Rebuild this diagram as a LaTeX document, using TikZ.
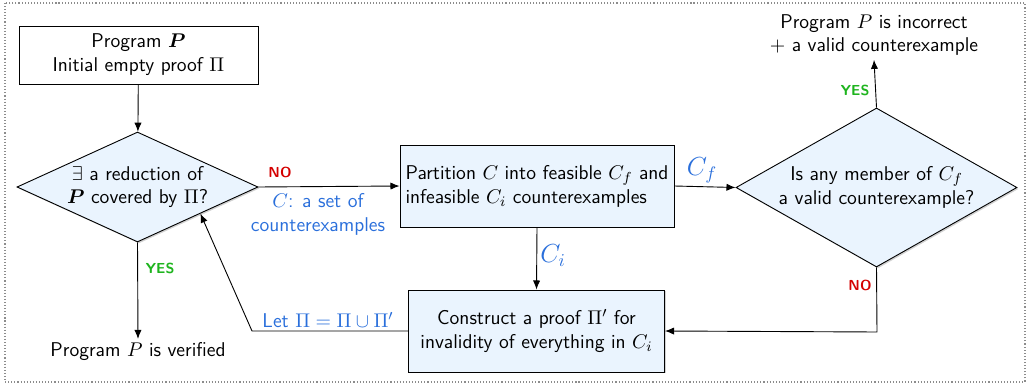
\documentclass[tikz,border=0pt]{standalone}
\usepackage{amsmath}
\usepackage{bm}
\usetikzlibrary{shapes.geometric,shadows,arrows.meta,calc}
\definecolor{boxfill}{HTML}{EAF4FE}
\definecolor{lblblue}{HTML}{2A6FDB}
\definecolor{nored}{HTML}{D40000}
\definecolor{yesgreen}{HTML}{1EB41E}
\def\u{0.5515pt}
\newcommand{\bodyfont}{\sffamily\fontsize{11}{13.2}\selectfont}
\newcommand{\bigfont}{\fontsize{14.4}{17}\selectfont}
\tikzset{
  >={Latex[length=5pt,width=4pt]},
  flow/.style={draw=black, line width=0.5pt, ->},
  shade box/.style={drop shadow={shadow xshift=0.8pt, shadow yshift=-0.8pt, opacity=0.3, fill=black!60}},
  procbox/.style={rectangle, draw=black, line width=0.5pt, fill=boxfill, shade box, font=\bodyfont, inner sep=2pt},
  startbox/.style={rectangle, draw=black, line width=0.5pt, fill=white, shade box, font=\bodyfont, align=center},
  decision/.style={diamond, draw=black, line width=0.5pt, fill=boxfill, shade box, font=\bodyfont, align=center, inner sep=-4pt},
  plain/.style={font=\bodyfont, align=center, inner sep=2pt},
  nolbl/.style={font=\sffamily\footnotesize\bfseries, text=nored},
  yeslbl/.style={font=\sffamily\footnotesize\bfseries, text=yesgreen},
  bluelbl/.style={font=\bodyfont, text=lblblue, align=center},
  biglbl/.style={font=\bigfont, text=lblblue},
}
\begin{document}
\begin{tikzpicture}[x=\u, y=-\u]
  % canvas and dotted frame
  \useasboundingbox (0,0) rectangle (1032,389);
  \draw[black!45, line width=0.6pt, dash pattern=on 0.6pt off 1.1pt] (5,3) rectangle (1025,382);

  % nodes
  \node[startbox, minimum width={239*\u}, minimum height={58*\u}] (start) at (138.5,55)
    {Program $\boldsymbol{P}$\\Initial empty proof $\Pi$};
  \node[decision, minimum width={241*\u}, minimum height={110*\u}, aspect=2.19] (cover) at (137.5,187)
    {$\exists$ a reduction of\\$\boldsymbol{P}$ covered by $\Pi$?};
  \node[procbox, align=left, minimum width={274*\u}, minimum height={82*\u}] (part) at (537,186)
    {Partition $C$ into feasible $C_f$ and\\infeasible $C_i$ counterexamples};
  \node[decision, minimum width={281*\u}, minimum height={159*\u}, aspect=1.77] (valid) at (876.5,187.5)
    {Is any member of $C_f$\\a valid counterexample?};
  \node[procbox, align=center, minimum width={256*\u}, minimum height={82*\u}] (proof) at (536.5,331)
    {Construct a proof $\Pi'$ for\\invalidity of everything in $C_i$};
  \node[plain] (verified) at (138,352) {Program $P$ is verified};
  \node[plain] (incorrect) at (874,35) {Program $P$ is incorrect\\$+$ a valid counterexample};

  % connectors
  \draw[flow] (start) -- (cover);
  \draw[flow] (cover.east) -- (part.west);
  \draw[flow] (part.east) -- (valid.west);
  \draw[flow] (part.south) -- (proof.north);
  \draw[flow] (cover.south) -- (verified.north);
  \draw[flow] (valid.north) -- (incorrect.south);
  \coordinate (nocorner) at (877,332);
  \draw[flow] (valid.south) -- (nocorner) -- (proof.east);
  \coordinate (loopcorner) at (252,331);
  \draw[flow] (proof.west) -- (loopcorner) -- ($(cover.east)!0.48!(cover.south)$);

  % edge labels
  \node[nolbl] (no1) at (280,172) {NO};
  \node[bluelbl] (cset) at (318,214) {$C$: a set of\\counterexamples};
  \node[biglbl] (cf) at (702,170) {$C_f$};
  \node[biglbl] (ci) at (553,256) {$C_i$};
  \node[bluelbl] (letpi) at (328,320) {Let $\Pi = \Pi \cup \Pi'$};
  \node[yeslbl] (yes1) at (160,268) {YES};
  \node[yeslbl] (yes2) at (855,90) {YES};
  \node[nolbl] (no2) at (860,285) {NO};
\end{tikzpicture}
\end{document}
